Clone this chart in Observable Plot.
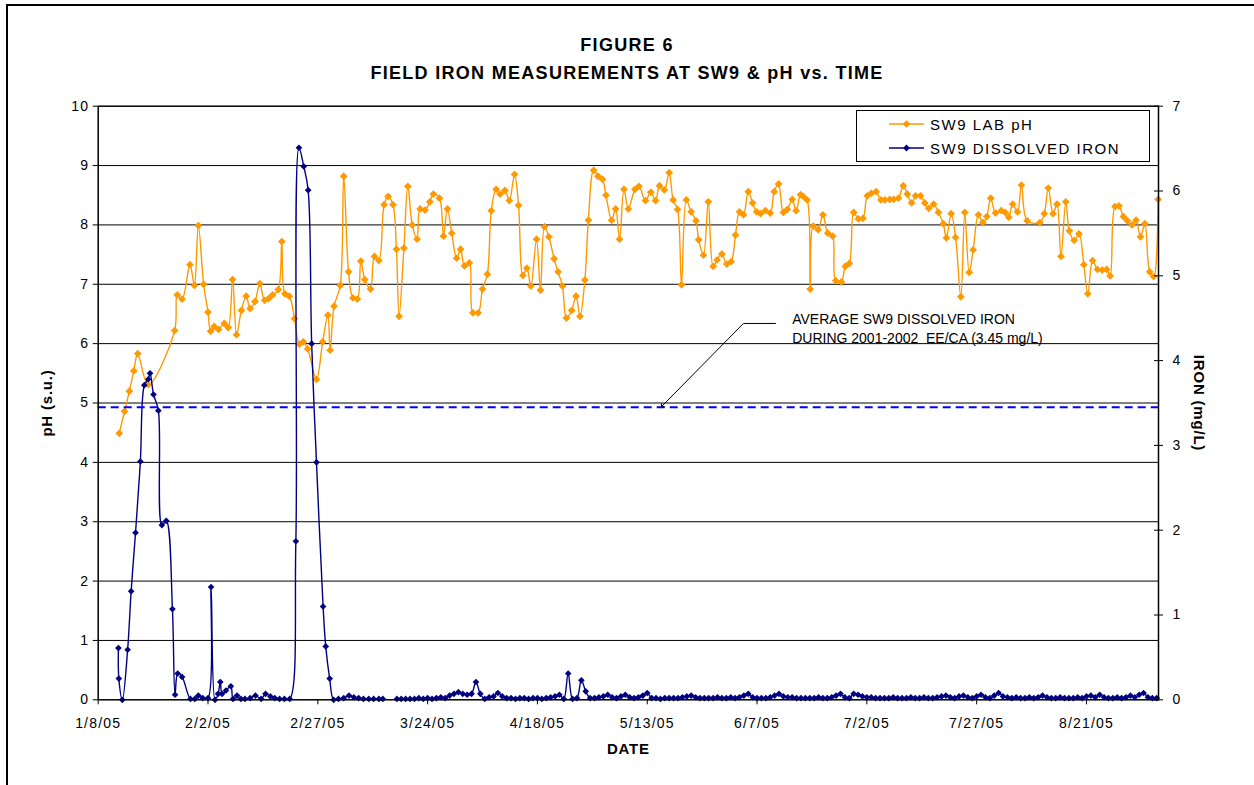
<!DOCTYPE html>
<html><head><meta charset="utf-8">
<script src="https://cdn.jsdelivr.net/npm/d3@7"></script>
<script src="https://cdn.jsdelivr.net/npm/@observablehq/plot@0.6"></script>
<style>
body{margin:0;background:#fff;overflow:hidden;font-family:'Liberation Sans',Arial,sans-serif}
#wrap{position:relative;width:1254px;height:785px;overflow:hidden;background:#fff}
#border{position:absolute;left:6px;top:4px;width:1300px;height:900px;border-top:2px solid #000;border-left:2px solid #000}
.title{position:absolute;left:0;width:1254px;text-align:center;font-weight:bold;font-size:18px;line-height:20px;color:#000;letter-spacing:1.3px}
#chart{position:absolute;left:0;top:95px}
#legend{position:absolute;left:856px;top:110px;width:292px;height:50px;border:1px solid #000;background:#fff}
</style></head>
<body><div id="wrap"><div id="border"></div>
<div class="title" id="t1" style="top:35px"></div>
<div class="title" id="t2" style="top:63px"></div>
<div id="chart"></div>
<div id="legend"></div>
</div>
<script>
// ---------- data ----------
const titleLines = ["FIGURE 6", "FIELD IRON MEASUREMENTS AT SW9 & pH vs. TIME"];
const seriesNames = ["SW9 LAB pH", "SW9 DISSOLVED IRON"];
const seriesColors = ["#FF9900", "#000080"];
const startDate = "1/8/05";
const xTickLabels = ["1/8/05","2/2/05","2/27/05","3/24/05","4/18/05","5/13/05","6/7/05","7/2/05","7/27/05","8/21/05"];
const xEndDay = 241.4;
const phTicks = [0,1,2,3,4,5,6,7,8,9,10];
const phGrid = [1,2,3,4,5,6,7,8,9];
const ironTicks = [0,1,2,3,4,5,6,7];
const ironAverage = 3.45;
const annotationText = "AVERAGE SW9 DISSOLVED IRON\nDURING 2001-2002  EE/CA (3.45 mg/L)";

// pH readings: [days after 1/8/05, pH]
const phReadings = [
[4.8,4.49],[6.0,4.86],[7.1,5.20],[8.1,5.54],[9.0,5.83],[11.4,5.31],[17.4,6.22],[18.0,6.82],[19.1,6.75],[20.9,7.33],
[21.9,6.98],[22.8,7.99],[24.0,7.00],[25.0,6.53],[25.6,6.21],[26.4,6.29],[27.4,6.24],[28.7,6.34],[29.6,6.27],[30.6,7.08],
[31.5,6.15],[32.6,6.56],[33.7,6.80],[34.6,6.59],[35.7,6.71],[36.8,7.01],[37.9,6.73],[38.8,6.76],[39.7,6.82],[41.0,6.91],
[41.8,7.72],[42.5,6.84],[43.5,6.80],[44.7,6.42],[45.8,5.99],[46.7,6.03],[47.7,5.91],[49.7,5.40],[51.1,6.03],[52.3,6.48],
[52.8,5.89],[53.7,6.63],[55.1,6.98],[55.9,8.82],[57.0,7.21],[58.0,6.77],[59.0,6.75],[59.8,7.39],[60.7,7.08],[62.0,6.92],
[62.9,7.47],[63.9,7.40],[65.1,8.34],[66.0,8.48],[67.1,8.34],[67.9,7.59],[68.5,6.46],[69.6,7.61],[70.5,8.65],[71.5,8.00],
[72.6,7.76],[73.3,8.27],[74.4,8.25],[75.5,8.39],[76.3,8.52],[77.7,8.45],[78.6,7.81],[79.5,8.27],[80.5,7.86],[81.6,7.44],
[82.5,7.59],[83.4,7.31],[84.5,7.36],[85.3,6.52],[86.5,6.52],[87.5,6.92],[88.6,7.17],[89.5,8.24],[90.6,8.60],[91.5,8.52],
[92.6,8.58],[93.6,8.41],[94.8,8.85],[95.7,8.33],[96.7,7.15],[97.6,7.27],[98.5,6.97],[99.8,7.76],[100.7,6.90],[101.6,7.97],
[102.6,7.80],[103.8,7.43],[104.7,7.21],[105.7,6.97],[106.6,6.43],[107.8,6.56],[108.8,6.80],[109.7,6.46],[110.8,7.07],[111.6,8.08],
[112.8,8.92],[113.8,8.82],[114.8,8.77],[115.6,8.50],[116.9,8.08],[117.8,8.27],[118.7,7.76],[119.7,8.60],[120.7,8.27],[122.2,8.60],
[123.1,8.65],[124.6,8.41],[125.8,8.55],[126.9,8.41],[127.8,8.66],[128.9,8.59],[130.0,8.88],[130.9,8.42],[131.9,8.26],[132.8,6.99],
[133.9,8.42],[135.0,8.22],[136.1,8.07],[136.7,7.75],[137.8,7.49],[138.9,8.39],[140.0,7.30],[140.9,7.41],[142.0,7.51],[143.1,7.34],
[144.1,7.38],[145.1,7.83],[146.0,8.22],[146.9,8.17],[148.0,8.56],[149.0,8.37],[149.9,8.22],[150.8,8.19],[151.9,8.24],[153.0,8.20],
[153.9,8.56],[154.9,8.69],[156.0,8.21],[156.9,8.26],[158.0,8.43],[158.9,8.24],[159.9,8.51],[160.5,8.48],[161.4,8.42],[162.1,6.92],
[162.8,7.98],[163.9,7.92],[165.0,8.17],[166.1,7.86],[167.2,7.81],[167.9,7.06],[169.2,7.04],[170.1,7.30],[171.0,7.35],[172.0,8.21],
[173.1,8.10],[174.1,8.11],[175.1,8.49],[176.0,8.53],[177.1,8.56],[178.2,8.42],[179.1,8.42],[180.2,8.43],[181.1,8.43],[182.2,8.45],
[183.3,8.66],[184.2,8.52],[185.2,8.37],[186.1,8.49],[187.2,8.49],[188.2,8.37],[189.1,8.28],[190.2,8.35],[191.3,8.21],[192.4,8.02],
[193.1,7.78],[194.2,8.19],[195.2,7.79],[196.4,6.79],[197.3,8.21],[198.3,7.20],[199.2,7.58],[200.4,8.17],[201.4,8.04],[202.3,8.14],
[203.2,8.45],[204.3,8.20],[205.6,8.24],[206.5,8.21],[207.3,8.13],[208.2,8.35],[209.3,8.22],[210.2,8.67],[211.5,8.07],[214.4,8.04],
[215.4,8.19],[216.3,8.62],[217.4,8.19],[218.3,8.35],[219.2,7.47],[220.3,8.39],[221.1,7.90],[222.2,7.74],[223.3,7.85],[224.4,7.33],
[225.3,6.84],[226.4,7.40],[227.5,7.25],[228.6,7.24],[229.6,7.25],[230.4,7.14],[231.5,8.31],[232.4,8.32],[233.4,8.14],[234.3,8.07],
[235.4,8.00],[236.3,8.08],[237.3,7.80],[238.3,8.02],[239.4,7.21],[240.3,7.13],[241.3,8.43]
];

// dissolved iron readings: [days after 1/8/05, mg/L] (null = no sample, line break)
const ironReadings = [
[4.6,0.61],[4.7,0.25],[5.5,0.00],[6.7,0.59],[7.5,1.28],[8.5,1.97],[9.6,2.81],[10.5,3.71],[11.4,3.78],[11.8,3.85],
[12.6,3.60],[13.7,3.41],[14.5,2.06],[15.5,2.11],[16.9,1.07],[17.5,0.06],[18.1,0.31],[19.1,0.27],[21.0,0.01],[22.0,0.01],
[22.8,0.05],[23.8,0.02],[25.0,0.02],[25.7,1.33],[26.6,0.00],[27.3,0.07],[27.8,0.21],[28.2,0.07],[29.1,0.11],[30.2,0.16],
[30.7,0.01],[31.6,0.05],[32.5,0.01],[33.4,0.01],[34.6,0.02],[35.8,0.05],[37.1,0.01],[38.1,0.07],[39.2,0.04],[40.2,0.02],
[41.3,0.01],[42.4,0.01],[43.6,0.01],[45.0,1.87],[45.7,6.51],[46.8,6.29],[47.8,6.01],[48.6,4.20],[49.7,2.80],[51.2,1.10],
[51.8,0.63],[52.7,0.25],[53.6,0.00],[54.7,0.01],[55.9,0.02],[57.1,0.05],[58.2,0.03],[59.3,0.02],[60.4,0.01],[61.6,0.01],
[62.7,0.01],[63.9,0.01],[64.8,0.01],[66,null],
[68,0.01],[69,0.01],[70,0.01],[71,0.01],[72,0.01],[73,0.02],[74,0.01],[75,0.02],[76,0.01],[77,0.02],
[78,0.03],[79,0.02],[80,0.05],[81,0.07],[82,0.09],[83,0.07],[84,0.06],[85,0.07],[86,0.21],[87,0.07],
[88,0.01],[89,0.03],[90,0.04],[91,0.08],[92,0.04],[93,0.02],[94,0.02],[95,0.01],[96,0.02],[97,0.02],
[98,0.01],[99,0.02],[100,0.02],[101,0.01],[102,0.02],[103,0.03],[104,0.04],[105,0.06],[106,0.01],[107,0.31],
[108,0.01],[109,0.02],[110,0.23],[111,0.10],[112,0.02],[113,0.02],[114,0.03],[115,0.04],[116,0.06],[117,0.03],
[118,0.02],[119,0.04],[120,0.06],[121,0.03],[122,0.02],[123,0.03],[124,0.05],[125,0.08],[126,0.02],[127,0.02],
[128,0.01],[129,0.02],[130,0.02],[131,0.02],[132,0.02],[133,0.03],[134,0.04],[135,0.05],[136,0.03],[137,0.02],
[138,0.02],[139,0.02],[140,0.02],[141,0.03],[142,0.02],[143,0.02],[144,0.03],[145,0.02],[146,0.03],[147,0.05],
[148,0.07],[149,0.03],[150,0.02],[151,0.02],[152,0.02],[153,0.03],[154,0.05],[155,0.07],[156,0.04],[157,0.03],
[158,0.03],[159,0.02],[160,0.02],[161,0.02],[162,0.02],[163,0.02],[164,0.03],[165,0.02],[166,0.02],[167,0.03],
[168,0.05],[169,0.07],[170,0.03],[171,0.02],[172,0.07],[173,0.06],[174,0.04],[175,0.03],[176,0.03],[177,0.02],
[178,0.02],[179,0.02],[180,0.02],[181,0.03],[182,0.02],[183,0.02],[184,0.02],[185,0.03],[186,0.02],[187,0.02],
[188,0.03],[189,0.02],[190,0.02],[191,0.03],[192,0.04],[193,0.05],[194,0.03],[195,0.02],[196,0.04],[197,0.05],
[198,0.03],[199,0.02],[200,0.04],[201,0.06],[202,0.03],[203,0.02],[204,0.05],[205,0.08],[206,0.04],[207,0.03],
[208,0.02],[209,0.03],[210,0.02],[211,0.02],[212,0.03],[213,0.02],[214,0.03],[215,0.05],[216,0.03],[217,0.02],
[218,0.02],[219,0.03],[220,0.02],[221,0.02],[222,0.02],[223,0.03],[224,0.02],[225,0.04],[226,0.05],[227,0.03],
[228,0.06],[229,0.03],[230,0.02],[231,0.02],[232,0.03],[233,0.02],[234,0.03],[235,0.05],[236,0.03],[237,0.06],
[238,0.08],[239,0.03],[240,0.02],[241,0.02]
];

// annotation anchors in data units [day, pH]
const annotationLeader = [[154.2,6.34],[146.9,6.34],[128.4,4.95]];
const annotationAnchor = [158.0, 6.27];

// ---------- build ----------
const parse = d3.utcParse("%m/%d/%y");
const t0 = parse(startDate);
const toDate = d => new Date(+t0 + d * 864e5);
const ironToPh = 10 / 7;
const xTickDates = xTickLabels.map(parse);
const fmt = d3.utcFormat("%-m/%-d/%y");
const diamond = d3.symbolDiamond2 || d3.symbolDiamond;
const FONT = "'Liberation Sans', Arial, Helvetica, sans-serif";

document.getElementById("t1").textContent = titleLines[0];
document.getElementById("t2").textContent = titleLines[1];

const chart = Plot.plot({
  width: 1254, height: 690,
  marginTop: 10.7, marginBottom: 85.7, marginLeft: 97.7, marginRight: 96,
  style: {fontFamily: FONT, fontSize: "14px", color: "#000", background: "transparent", overflow: "visible"},
  x: {type: "utc", domain: [toDate(0), toDate(xEndDay)]},
  y: {domain: [0, 10]},
  marks: [
    Plot.ruleY(phGrid, {stroke: "#000", strokeWidth: 1}),
    Plot.line(phReadings, {x: d => toDate(d[0]), y: d => d[1], stroke: seriesColors[0], strokeWidth: 1.4, curve: "catmull-rom"}),
    Plot.dot(phReadings, {x: d => toDate(d[0]), y: d => d[1], symbol: diamond, r: 3.5, fill: seriesColors[0], stroke: null}),
    Plot.line(ironReadings, {x: d => toDate(d[0]), y: d => d[1] == null ? NaN : d[1] * ironToPh, stroke: seriesColors[1], strokeWidth: 1.4, curve: "catmull-rom"}),
    Plot.dot(ironReadings.filter(d => d[1] != null), {x: d => toDate(d[0]), y: d => d[1] * ironToPh, symbol: diamond, r: 3.0, fill: seriesColors[1], stroke: null}),
    Plot.ruleY([ironAverage * ironToPh], {stroke: "#0000FF", strokeWidth: 2, strokeDasharray: "8,5"}),
    Plot.frame({stroke: "#000", strokeWidth: 1.5}),
    Plot.axisY({anchor: "left", ticks: phTicks, tickSize: 5, tickPadding: 4, label: null, fontSize: 14}),
    Plot.axisY({anchor: "right", ticks: ironTicks.map(v => v * ironToPh), tickFormat: d => String(Math.round(d / ironToPh)), tickSize: 4, tickPadding: 10, label: null, fontSize: 14}),
    Plot.axisY({anchor: "right", ticks: ironTicks.map(v => v * ironToPh), tickFormat: () => "", tickSize: -5, label: null}),
    Plot.axisX({ticks: xTickDates, tickFormat: fmt, tickSize: 5, tickPadding: 13, label: null, fontSize: 14}),
    Plot.line(annotationLeader, {x: d => toDate(d[0]), y: d => d[1], stroke: "#000", strokeWidth: 1, markerEnd: "arrow"}),
    Plot.text([annotationText], {x: toDate(annotationAnchor[0]), y: annotationAnchor[1], text: d => d, textAnchor: "start", lineAnchor: "middle", lineHeight: 1.3, fontSize: 14, fill: "#000"}),
    Plot.text(["pH (s.u.)"], {text: d => d, frameAnchor: "left", textAnchor: "middle", dx: -51, rotate: -90, fontWeight: "bold", fontSize: 15, className: "axis-title"}),
    Plot.text(["IRON (mg/L)"], {text: d => d, frameAnchor: "right", textAnchor: "middle", dx: 40, rotate: 90, fontWeight: "bold", fontSize: 15, className: "axis-title"}),
    Plot.text(["DATE"], {text: d => d, frameAnchor: "bottom", dy: 54, fontWeight: "bold", fontSize: 15, className: "axis-title"})
  ]
});
document.getElementById("chart").appendChild(chart);
// Excel-like loose letter spacing on axis text
d3.select(chart).selectAll("g[aria-label$='tick label'] text").style("letter-spacing", "1.2px");
d3.select(chart).selectAll(".axis-title text").style("letter-spacing", "0.8px");

// legend
const legendSvg = d3.select("#legend").append("svg").attr("width", 292).attr("height", 50);
seriesNames.forEach((name, i) => {
  const cy = 13 + i * 24;
  legendSvg.append("line").attr("x1", 32).attr("x2", 67).attr("y1", cy).attr("y2", cy)
    .attr("stroke", seriesColors[i]).attr("stroke-width", 1.3);
  legendSvg.append("path").attr("transform", `translate(49.5,${cy})`)
    .attr("d", d3.symbol(diamond, i === 0 ? 38 : 30)()).attr("fill", seriesColors[i]);
  legendSvg.append("text").attr("x", 73).attr("y", cy + 5.5).attr("font-size", 15)
    .attr("font-family", FONT).style("letter-spacing", "1.5px").text(name);
});
</script>
</body></html>
